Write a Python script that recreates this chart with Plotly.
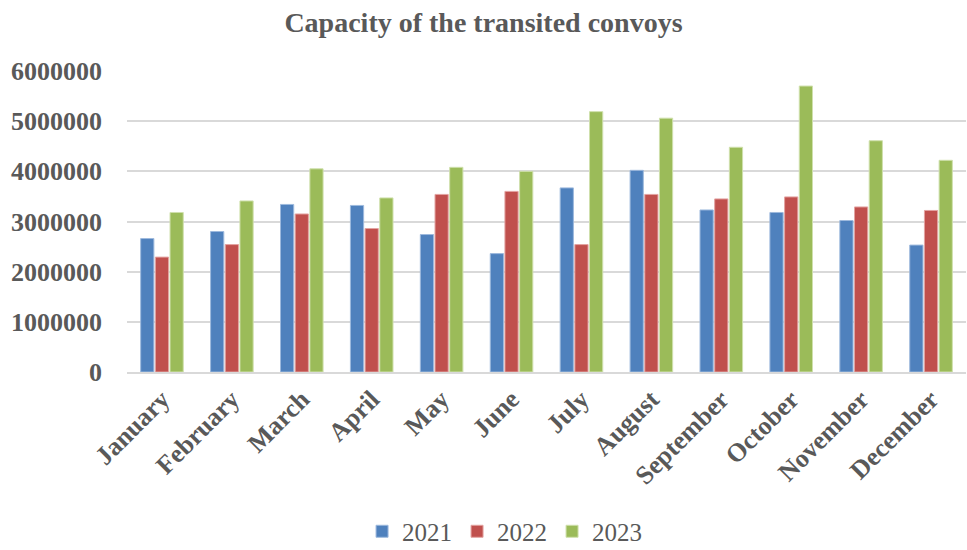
import plotly.graph_objects as go

months = ["January", "February", "March", "April", "May", "June", "July",
          "August", "September", "October", "November", "December"]
cap_2021 = [2660000, 2800000, 3340000, 3320000, 2740000, 2360000, 3670000,
            4020000, 3230000, 3180000, 3020000, 2530000]
cap_2022 = [2290000, 2540000, 3150000, 2860000, 3540000, 3600000, 2540000,
            3540000, 3450000, 3490000, 3290000, 3220000]
cap_2023 = [3180000, 3410000, 4050000, 3470000, 4080000, 4000000, 5190000,
            5060000, 4480000, 5700000, 4610000, 4220000]
y_ticks = [0, 1000000, 2000000, 3000000, 4000000, 5000000, 6000000]

series = [
    ("2021", cap_2021, "#4F81BD", "#9DB9DD"),
    ("2022", cap_2022, "#C0504D", "#E3A3A1"),
    ("2023", cap_2023, "#9BBB59", "#CFE0AC"),
]

serif = "Liberation Serif"
grey = "#595959"

fig = go.Figure()
for name, vals, col, edge in series:
    fig.add_trace(go.Bar(
        x=months, y=vals, name=name,
        marker=dict(color=col, line=dict(color=edge, width=1)),
    ))

fig.update_layout(
    width=967, height=550,
    paper_bgcolor="white", plot_bgcolor="white",
    font=dict(family=serif, color=grey),
    barmode="group", bargap=0.37, bargroupgap=0.1,
    margin=dict(l=127, r=1, t=71, b=178, autoexpand=False),
    title=dict(text="<b>Capacity of the transited convoys</b>",
               x=0.5, xanchor="center", y=0.96, yanchor="middle",
               font=dict(family=serif, size=28, color=grey)),
    legend=dict(orientation="h", x=0.45, xanchor="center",
                y=-0.53, yanchor="middle",
                font=dict(family=serif, size=25, color=grey),
                itemwidth=30, traceorder="normal",
                tracegroupgap=0),
    showlegend=True,
)
fig.update_yaxes(
    range=[0, 6000000], tickvals=y_ticks,
    ticktext=[f"<b>{v}</b>" for v in y_ticks],
    tickfont=dict(family=serif, size=26, color=grey),
    showgrid=True, gridcolor="#D9D9D9", gridwidth=1.5,
    zeroline=False, showline=False, ticklabelstandoff=24,
    automargin=False,
)
fig.update_xaxes(
    tickvals=months, ticktext=[f"<b>{m}</b>" for m in months],
    tickangle=-45,
    tickfont=dict(family=serif, size=26, color=grey),
    showline=True, linecolor="#D9D9D9", linewidth=1.5,
    showgrid=False, ticks="", automargin=False,
)

fig.write_html("out.html")
